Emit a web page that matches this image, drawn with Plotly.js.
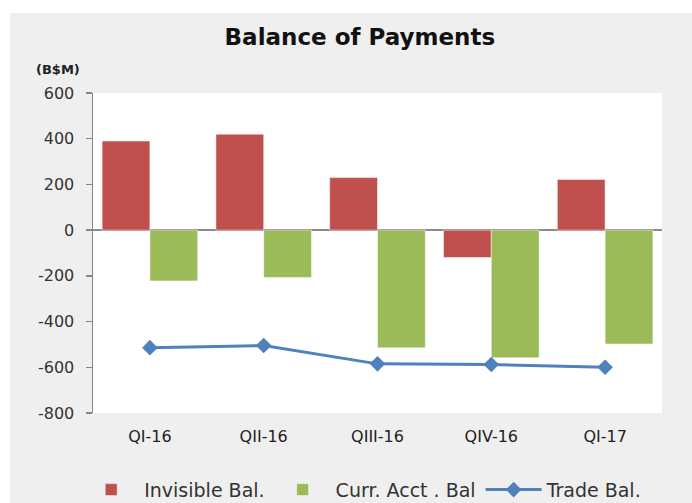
<!DOCTYPE html>
<html>
<head>
<meta charset="utf-8">
<script src="https://cdn.plot.ly/plotly-3.0.1.min.js"></script>
<style>
html,body{margin:0;padding:0;background:#ffffff;width:692px;height:503px;overflow:hidden;}
#chart{position:absolute;left:10px;top:13px;width:682px;height:490px;}
</style>
</head>
<body>
<div id="chart"></div>
<script>
var quarters = ["QI-16", "QII-16", "QIII-16", "QIV-16", "QI-17"];
var invisibleBal = [390, 420, 230, -120, 222];
var currAcctBal = [-222, -207, -515, -558, -498];
var tradeBal = [-514, -505, -585, -588, -600];
var yTicks = [600, 400, 200, 0, -200, -400, -600, -800];

var traces = [
  {
    type: "bar", name: "Invisible Bal.", x: quarters, y: invisibleBal,
    marker: {color: "#C0504D", line: {color: "#ffffff", width: 0.5}}
  },
  {
    type: "bar", name: "Curr. Acct . Bal", x: quarters, y: currAcctBal,
    marker: {color: "#9BBB59", line: {color: "#ffffff", width: 0.5}}
  },
  {
    type: "scatter", mode: "lines+markers", name: "Trade Bal.", x: quarters, y: tradeBal,
    line: {color: "#4F81BD", width: 3},
    marker: {symbol: "diamond", size: 12, color: "#4F81BD"}
  }
];

var layout = {
  width: 682, height: 490,
  paper_bgcolor: "#efefef",
  plot_bgcolor: "#ffffff",
  margin: {l: 83, r: 30, t: 80, b: 90},
  barmode: "group",
  bargap: 0.16,
  bargroupgap: 0,
  title: {
    text: "<b>Balance of Payments</b>",
    font: {family: "DejaVu Sans", size: 23, color: "#111111"},
    x: 0.469, xanchor: "center", xref: "paper",
    y: 0.951, yanchor: "middle", yref: "container"
  },
  xaxis: {
    type: "category",
    showline: false, showgrid: false, zeroline: false,
    ticks: "",
    ticklabelstandoff: 12,
    tickfont: {family: "DejaVu Sans", size: 16, color: "#222222"}
  },
  yaxis: {
    range: [-800, 600],
    tickvals: yTicks,
    ticktext: yTicks.map(String),
    showline: true, linecolor: "#868686", linewidth: 1.5,
    ticks: "outside", ticklen: 6, tickcolor: "#868686", tickwidth: 1.5,
    ticklabelstandoff: 8,
    showgrid: false,
    zeroline: true, zerolinecolor: "#8c8c8c", zerolinewidth: 2,
    tickfont: {family: "DejaVu Sans", size: 16, color: "#333333"}
  },
  legend: {
    orientation: "h",
    xref: "container", yref: "container",
    x: 0.1, xanchor: "left",
    y: 0.027, yanchor: "middle",
    itemwidth: 56,
    font: {family: "DejaVu Sans", size: 19, color: "#333333"},
    bgcolor: "rgba(0,0,0,0)",
    traceorder: "normal"
  },
  annotations: [
    {
      text: "<b>(B$M)</b>", xref: "paper", yref: "paper",
      x: -0.019, y: 1.075, xanchor: "right", yanchor: "middle",
      showarrow: false,
      font: {family: "DejaVu Sans", size: 13, color: "#222222"}
    }
  ],
  showlegend: true
};

Plotly.newPlot("chart", traces, layout, {displayModeBar: false, staticPlot: true});
</script>
</body>
</html>
